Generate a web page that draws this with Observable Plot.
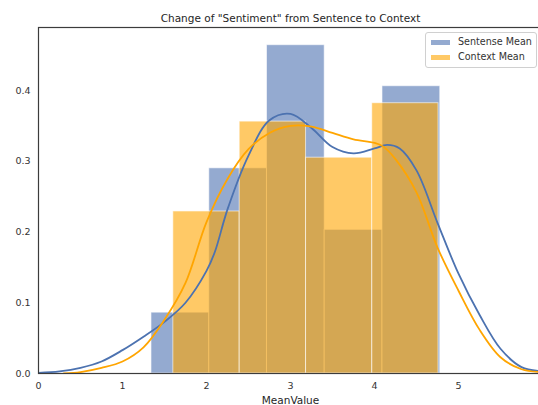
<!DOCTYPE html>
<html>
<head>
<meta charset="utf-8">
<script src="https://cdn.jsdelivr.net/npm/d3@7"></script>
<script src="https://cdn.jsdelivr.net/npm/@observablehq/plot@0.6"></script>
<style>
  html, body { margin: 0; padding: 0; background: #fff; overflow: hidden; }
  #wrap { position: relative; width: 538px; height: 405px; overflow: hidden; }
  #wrap svg { max-width: none !important; }
  .legend {
    position: absolute; left: 425px; top: 32px; width: 110px; height: 34px;
    border: 1px solid #d0d0d0; border-radius: 3px; background: rgba(255,255,255,0.85);
    font-family: "DejaVu Sans", sans-serif; font-size: 9.6px; color: #333;
  }
  .item { position: absolute; left: 0; height: 12px; display: flex; align-items: center; }
  .swatch { position: absolute; left: 5px; width: 19px; height: 5px; }
  .label { position: absolute; left: 32px; white-space: nowrap; line-height: 12px; }
</style>
</head>
<body>
<div id="wrap"></div>
<script>
// Axis ticks
const xTicks = [0, 1, 2, 3, 4, 5];
const yTicks = [0, 0.1, 0.2, 0.3, 0.4];

// Histogram bins (density) — sentence mean
const sentEdges = [1.345, 2.033, 2.72, 3.407, 4.095, 4.783];
const sentDensity = [0.086, 0.290, 0.464, 0.203, 0.406];

// Histogram bins (density) — context mean
const ctxEdges = [1.605, 2.395, 3.185, 3.973, 4.762];
const ctxDensity = [0.229, 0.356, 0.305, 0.382];

// Kernel density estimate — sentence mean
const sentKdeX = [0.0, 0.25, 0.5, 0.75, 1.0, 1.25, 1.5, 1.75, 2.0, 2.1, 2.25, 2.5, 2.75, 3.0, 3.25, 3.5, 3.75, 4.0, 4.15, 4.3, 4.5, 4.75, 5.0, 5.25, 5.5, 5.75, 6.0];
const sentKdeY = [0.001, 0.003, 0.008, 0.017, 0.033, 0.052, 0.073, 0.100, 0.145, 0.172, 0.232, 0.308, 0.358, 0.367, 0.347, 0.320, 0.311, 0.318, 0.323, 0.318, 0.287, 0.213, 0.141, 0.083, 0.035, 0.009, 0.003];

// Kernel density estimate — context mean
const ctxKdeX = [0.3, 0.5, 0.75, 1.0, 1.25, 1.5, 1.75, 2.0, 2.25, 2.5, 2.75, 3.0, 3.25, 3.5, 3.75, 4.0, 4.1, 4.25, 4.5, 4.75, 5.0, 5.25, 5.5, 5.75, 6.0];
const ctxKdeY = [0.000, 0.002, 0.008, 0.017, 0.037, 0.076, 0.128, 0.214, 0.275, 0.317, 0.340, 0.350, 0.349, 0.340, 0.331, 0.326, 0.321, 0.303, 0.256, 0.178, 0.117, 0.062, 0.023, 0.006, 0.002];

const seriesNames = ["Sentense Mean", "Context Mean"];
const colors = ["#4C72B0", "#FFA500"];
const title = 'Change of "Sentiment" from Sentence to Context';
const xLabel = "MeanValue";

const bins = (edges, dens) => dens.map((d, i) => ({x1: edges[i], x2: edges[i + 1], density: d}));
const curve = (xs, ys) => xs.map((x, i) => ({x, y: ys[i]}));

const sentBins = bins(sentEdges, sentDensity);
const ctxBins = bins(ctxEdges, ctxDensity);
const sentKde = curve(sentKdeX, sentKdeY);
const ctxKde = curve(ctxKdeX, ctxKdeY);

// The axes run to x = 6, slightly past the right edge of the page
const chart = Plot.plot({
  width: 542,
  height: 405,
  marginLeft: 38,
  marginRight: 0,
  marginTop: 27,
  marginBottom: 32,
  style: {fontFamily: "DejaVu Sans, sans-serif", fontSize: "9.5px", color: "#333", background: "white"},
  x: {domain: [0, 6]},
  y: {domain: [0, 0.489]},
  marks: [
    Plot.rectY(sentBins, {x1: "x1", x2: "x2", y: "density", fill: colors[0], fillOpacity: 0.6, stroke: "white", strokeOpacity: 0.6, strokeWidth: 1}),
    Plot.rectY(ctxBins, {x1: "x1", x2: "x2", y: "density", fill: colors[1], fillOpacity: 0.6, stroke: "white", strokeOpacity: 0.6, strokeWidth: 1}),
    Plot.line(sentKde, {x: "x", y: "y", stroke: colors[0], strokeWidth: 1.8, curve: "catmull-rom", clip: true}),
    Plot.line(ctxKde, {x: "x", y: "y", stroke: colors[1], strokeWidth: 1.8, curve: "catmull-rom", clip: true}),
    Plot.frame({stroke: "#3c3c3c", strokeWidth: 1.2}),
    Plot.axisX({ticks: xTicks, tickSize: 0, tickPadding: 9, tickFormat: d3.format("d"), label: null}),
    Plot.axisY({ticks: yTicks, tickSize: 0, tickPadding: 8, tickFormat: d3.format(".1f"), label: null}),
    Plot.text([xLabel], {frameAnchor: "bottom", dy: 27, lineAnchor: "middle", fontSize: 10.5, fill: "#262626"}),
    Plot.text([title], {frameAnchor: "top", dy: -9, lineAnchor: "middle", fontSize: 10.5, fill: "#262626"})
  ]
});
chart.style.maxWidth = "none";

const wrap = document.getElementById("wrap");
wrap.appendChild(chart);

// Legend box in the upper right corner
const legend = document.createElement("div");
legend.className = "legend";
seriesNames.forEach((name, i) => {
  const item = document.createElement("div");
  item.className = "item";
  item.style.top = (3 + i * 15) + "px";
  const sw = document.createElement("span");
  sw.className = "swatch";
  sw.style.background = colors[i];
  sw.style.opacity = 0.6;
  sw.style.top = "3.5px";
  const lb = document.createElement("span");
  lb.className = "label";
  lb.textContent = name;
  lb.style.top = "0px";
  item.appendChild(sw);
  item.appendChild(lb);
  legend.appendChild(item);
});
wrap.appendChild(legend);
</script>
</body>
</html>
